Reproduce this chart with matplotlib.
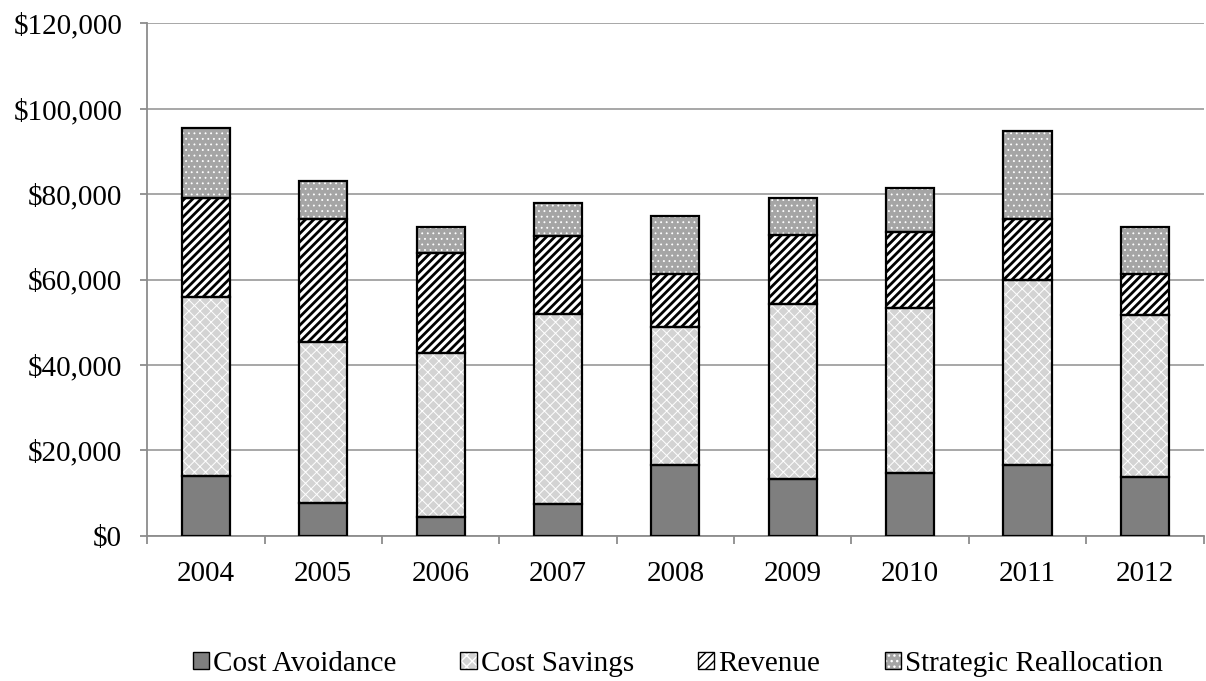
import numpy as np
import matplotlib.pyplot as plt
from matplotlib.patches import Patch
from matplotlib.legend_handler import HandlerTuple
from matplotlib.ticker import FuncFormatter

plt.rcParams['font.family'] = ['Liberation Serif', 'DejaVu Serif']

years = ['2004', '2005', '2006', '2007', '2008', '2009', '2010', '2011', '2012']
cost_avoidance = [14100, 7600, 4400, 7500, 16700, 13400, 14700, 16700, 13700]
cost_savings = [41800, 37900, 38500, 44500, 32200, 40900, 38700, 43300, 37900]
revenue = [23200, 28600, 23200, 18200, 12400, 16100, 17800, 14200, 9800]
strategic = [16400, 8900, 6300, 7600, 13500, 8700, 10200, 20500, 11000]

labels = ['Cost Avoidance', 'Cost Savings', 'Revenue', 'Strategic Reallocation']
series = [cost_avoidance, cost_savings, revenue, strategic]
# face colour, hatch, hatch colour, hatch line width
styles = [('#7f7f7f', None, None, 0),
          ('#d3d3d3', 'xxx', 'white', 0.7),
          ('white', '////', 'black', 2.0),
          ('#a5a5a5', '...', 'white', 0.6)]

fig = plt.figure(figsize=(12.06, 6.81), dpi=100)
ax = fig.add_axes([0.122, 0.213, 0.876, 0.753])

x = np.arange(len(years))
w = 0.41
bottom = np.zeros(len(years))
handles = []
for vals, lab, (fc, hatch, hc, hlw) in zip(series, labels, styles):
    vals = np.array(vals, dtype=float)
    ax.bar(x, vals, w, bottom=bottom, color=fc, edgecolor='none', zorder=2)
    parts = [Patch(facecolor=fc, edgecolor='none')]
    if hatch:
        with plt.rc_context({'hatch.linewidth': hlw}):
            ax.bar(x, vals, w, bottom=bottom, facecolor='none', edgecolor=hc,
                   hatch=hatch, linewidth=0, zorder=3)
            parts.append(Patch(facecolor='none', edgecolor=hc, hatch=hatch, linewidth=0))
    ax.bar(x, vals, w, bottom=bottom, facecolor='none', edgecolor='black',
           linewidth=1.6, zorder=4)
    parts.append(Patch(facecolor='none', edgecolor='black', linewidth=1.0))
    handles.append(tuple(parts))
    bottom += vals

ax.set_xlim(-0.5, len(years) - 0.5)
ax.set_ylim(0, 120000)
ax.set_yticks(np.arange(0, 120001, 20000))
ax.yaxis.set_major_formatter(FuncFormatter(lambda v, p: '${:,.0f}'.format(v)))
ax.set_xticks(x)
ax.set_xticklabels(years)
ax.set_xticks(np.arange(-0.5, len(years)), minor=True)

ax.set_axisbelow(True)
ax.grid(axis='y', color='#a0a0a0', linewidth=1.3)
for s in ['top', 'right']:
    ax.spines[s].set_visible(False)
for s in ['left', 'bottom']:
    ax.spines[s].set_color('#8c8c8c')
    ax.spines[s].set_linewidth(1.3)

ax.tick_params(axis='y', length=5, width=1.3, color='#8c8c8c', pad=13, labelsize=21)
ax.tick_params(axis='x', which='major', length=0, pad=18, labelsize=21)
ax.tick_params(axis='x', which='minor', length=6, width=1.3, color='#8c8c8c')

fig.legend(handles, labels, handler_map={tuple: HandlerTuple(ndivide=1, pad=0)},
           loc='center', bbox_to_anchor=(0.562, 0.025), ncol=4, frameon=False,
           fontsize=21, handlelength=0.55, handleheight=0.55, handletextpad=0.15,
           columnspacing=2.2)

fig.savefig('out.png', dpi=100)
